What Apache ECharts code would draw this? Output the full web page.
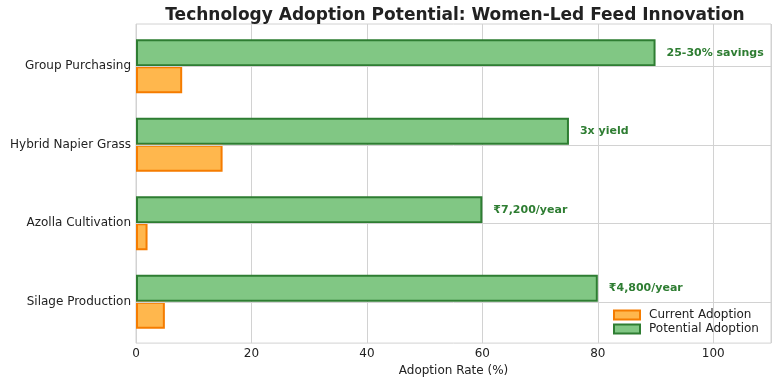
<!DOCTYPE html>
<html><head><meta charset="utf-8">
<script src="https://cdn.jsdelivr.net/npm/echarts@6/dist/echarts.min.js"></script>
<style>html,body{margin:0;padding:0;background:#fff}#c{width:780px;height:382px}</style>
</head><body><div id="c"></div>
<script>
const categories = ['Silage Production', 'Azolla Cultivation', 'Hybrid Napier Grass', 'Group Purchasing'];
const currentAdoption = [5, 2, 15, 8];
const potentialAdoption = [80, 60, 75, 90];
const annotations = ['₹4,800/year', '₹7,200/year', '3x yield', '25-30% savings'];
const xTicks = [0, 20, 40, 60, 80, 100];

const FONT = 'DejaVu Sans';
const GRID_COLOR = '#d2d2d2';
const chart = echarts.init(document.getElementById('c'), null, {renderer: 'canvas'});
chart.setOption({
  animation: false,
  backgroundColor: '#fff',
  title: {
    text: 'Technology Adoption Potential: Women-Led Feed Innovation',
    left: 450, textAlign: 'center', top: 2,
    textStyle: {fontFamily: FONT, fontSize: 17, fontWeight: 'bold', color: '#222'}
  },
  grid: [
    {left: 136, right: 9, top: 24, bottom: 38, show: true, borderColor: GRID_COLOR, borderWidth: 1, backgroundColor: '#fff'},
    {left: 136, right: 9, top: 27, bottom: 41}
  ],
  legend: {
    orient: 'vertical', left: 608, top: 304,
    icon: 'rect',
    itemWidth: 26, itemHeight: 9, itemGap: 2,
    textStyle: {fontFamily: FONT, fontSize: 12, color: '#222', padding: [0, 0, 0, 4]},
    data: ['Current Adoption', 'Potential Adoption']
  },
  xAxis: [
    {
      gridIndex: 0, type: 'value', min: 0, max: 110, interval: 20,
      name: 'Adoption Rate (%)', nameLocation: 'middle', nameGap: 19,
      nameTextStyle: {fontFamily: FONT, fontSize: 12, color: '#222'},
      axisLine: {show: false}, axisTick: {show: false},
      axisLabel: {fontFamily: FONT, fontSize: 12, color: '#222', margin: 5,
        formatter: v => xTicks.indexOf(v) >= 0 ? String(v) : ''},
      splitLine: {show: true, lineStyle: {color: GRID_COLOR, width: 1}}
    },
    {
      gridIndex: 1, type: 'value', min: 0, max: 110, interval: 20, show: false,
      splitLine: {show: false}
    }
  ],
  yAxis: [
    {
      gridIndex: 0, type: 'value', min: 0, max: 1, show: false, splitLine: {show: false}
    },
    {
      gridIndex: 1, type: 'category', data: categories,
      axisLine: {show: false}, axisTick: {show: false},
      axisLabel: {fontFamily: FONT, fontSize: 12, color: '#222', margin: 5},
      splitLine: {show: false}
    }
  ],
  series: [
    {
      name: 'gridlines', type: 'line', data: [], xAxisIndex: 1, yAxisIndex: 1,
      markLine: {
        silent: true, symbol: 'none', label: {show: false},
        lineStyle: {color: GRID_COLOR, width: 1, type: 'solid'},
        data: categories.map(c => ({yAxis: c}))
      },
      z: 1
    },
    {
      name: 'Potential Adoption', type: 'bar', data: potentialAdoption,
      xAxisIndex: 1, yAxisIndex: 1,
      barWidth: 27, barGap: '0%',
      itemStyle: {color: '#81C784', borderColor: '#2E7D32', borderWidth: 2},
      label: {
        show: true, position: 'right', distance: 11,
        fontFamily: FONT, fontSize: 11, fontWeight: 'bold', color: '#2E7D32',
        formatter: p => annotations[p.dataIndex]
      },
      z: 3
    },
    {
      name: 'Current Adoption', type: 'bar', data: currentAdoption,
      xAxisIndex: 1, yAxisIndex: 1,
      barWidth: 27,
      itemStyle: {color: '#FFB74D', borderColor: '#F57C00', borderWidth: 2},
      z: 3
    }
  ]
});
</script></body></html>
